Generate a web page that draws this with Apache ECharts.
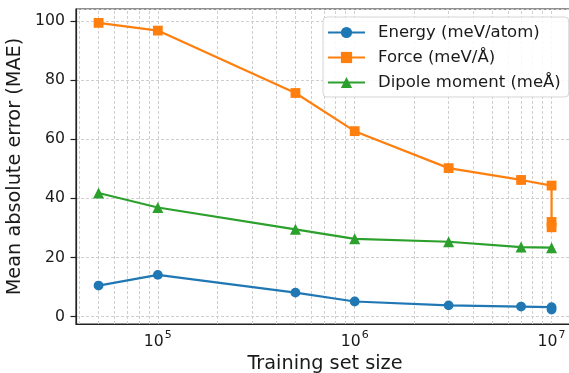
<!DOCTYPE html>
<html>
<head>
<meta charset="utf-8">
<script src="https://cdn.jsdelivr.net/npm/echarts@6/dist/echarts.min.js"></script>
<style>
  html, body { margin: 0; padding: 0; background: #fff; }
  #chart { width: 569px; height: 373px; }
</style>
</head>
<body>
<div id="chart"></div>
<script>
// training set sizes and MAE values
var energyX = [5e4, 1e5, 5e5, 1e6, 3e6, 7e6, 1e7, 1e7];
var energyY = [10.5, 14.1, 8.1, 5.1, 3.8, 3.4, 3.2, 2.4];
var forceX = [5e4, 1e5, 5e5, 1e6, 3e6, 7e6, 1e7, 1e7, 1e7];
var forceY = [99.3, 96.7, 75.6, 62.7, 50.2, 46.2, 44.3, 32.0, 30.2];
var dipoleX = [5e4, 1e5, 5e5, 1e6, 3e6, 7e6, 1e7];
var dipoleY = [41.8, 36.9, 29.5, 26.3, 25.3, 23.5, 23.3];
var seriesNames = ['Energy (meV/atom)', 'Force (meV/Å)', 'Dipole moment (meÅ)'];
// decade ticks and minor log ticks (2..9 x 10^k) inside the x range
var majorX = [1e5, 1e6, 1e7];
var minorX = [4e4, 5e4, 6e4, 7e4, 8e4, 9e4,
  2e5, 3e5, 4e5, 5e5, 6e5, 7e5, 8e5, 9e5,
  2e6, 3e6, 4e6, 5e6, 6e6, 7e6, 8e6, 9e6];

var xMin = 38400, xMax = 1.3e7;
var yMin = -2.5, yMax = 104;

var chart = echarts.init(document.getElementById('chart'));

function zip(xs, ys) {
  var out = [];
  for (var i = 0; i < xs.length; i++) out.push([xs[i], ys[i]]);
  return out;
}

var gridLine = { color: '#cfcfcf', width: 1, type: [3, 2] };
var tickLine = { color: '#222', width: 1.2, type: 'solid' };

// log-axis grid lines and ticks, major and minor
var xGrid = [];
var xTicks = [];
majorX.concat(minorX).forEach(function (v, i) {
  var len = i < majorX.length ? 1.86 : 1.05;
  xGrid.push({ xAxis: v });
  xTicks.push([
    { coord: [v, yMin], lineStyle: tickLine },
    { coord: [v, yMin - len] }
  ]);
});

function lineSeries(name, data, color, symbol, size) {
  return {
    name: name,
    type: 'line',
    data: data,
    symbol: symbol,
    symbolSize: size,
    showAllSymbol: true,
    clip: false,
    z: 5,
    lineStyle: { color: color, width: 2.2 },
    itemStyle: { color: color },
    emphasis: { disabled: true }
  };
}

var s0 = lineSeries(seriesNames[0], zip(energyX, energyY), '#1f77b4', 'circle', 9.8);
s0.markLine = {
  silent: true,
  symbol: 'none',
  label: { show: false },
  animation: false,
  z: 1,
  lineStyle: gridLine,
  data: xGrid.concat(xTicks)
};

var option = {
  animation: false,
  textStyle: { fontFamily: 'DejaVu Sans' },
  grid: {
    left: 76, top: 9, width: 498, height: 315,
    outerBoundsMode: 'none',
    containLabel: false,
    show: true, borderColor: '#222', borderWidth: 1.2, backgroundColor: 'transparent'
  },
  legend: {
    left: 323, top: 17,
    orient: 'vertical',
    itemWidth: 37, itemHeight: 14, itemGap: 8,
    padding: [7, 8, 6, 4],
    backgroundColor: 'rgba(255,255,255,0.85)',
    borderColor: '#d5d5d5', borderWidth: 1, borderRadius: 4,
    textStyle: { fontSize: 16.5, color: '#1a1a1a', fontFamily: 'DejaVu Sans', padding: [0, 0, 0, 8] },
    data: seriesNames
  },
  xAxis: {
    type: 'log',
    logBase: 10,
    min: xMin, max: xMax,
    name: 'Training set size',
    nameLocation: 'middle',
    nameGap: 25,
    nameTextStyle: { fontSize: 19.3, color: '#1a1a1a' },
    axisLine: { show: true, onZero: false, lineStyle: { color: '#222', width: 1.2 } },
    axisTick: { show: false },
    splitLine: { show: false },
    axisLabel: {
      margin: 6,
      showMinLabel: false, showMaxLabel: false,
      formatter: function (v) {
        var e = Math.log10(v);
        var r = Math.round(e);
        if (Math.abs(e - r) > 1e-6) return '';
        return '{b|10}{s|' + r + '}';
      },
      rich: {
        b: { fontSize: 15.7, color: '#1a1a1a', lineHeight: 20, verticalAlign: 'bottom' },
        s: { fontSize: 11, color: '#1a1a1a', lineHeight: 20, verticalAlign: 'top', padding: [0, 0, 0, 1] }
      }
    }
  },
  yAxis: {
    type: 'value',
    min: yMin, max: yMax,
    splitNumber: 5,
    name: 'Mean absolute error (MAE)',
    nameLocation: 'middle',
    nameGap: 41,
    nameTextStyle: { fontSize: 19.3, color: '#1a1a1a' },
    axisLine: { show: true, onZero: false, lineStyle: { color: '#222', width: 1.2 } },
    axisTick: { show: true, length: 5.5, lineStyle: { color: '#222', width: 1.2 } },
    splitLine: { show: true, lineStyle: gridLine },
    axisLabel: {
      margin: 11,
      fontSize: 15.7, color: '#1a1a1a',
      showMinLabel: false, showMaxLabel: false
    }
  },
  series: [
    s0,
    lineSeries(seriesNames[1], zip(forceX, forceY), '#ff7f0e', 'rect', 9.8),
    lineSeries(seriesNames[2], zip(dipoleX, dipoleY), '#2ca02c', 'triangle', 11)
  ]
};

chart.setOption(option);
</script>
</body>
</html>
